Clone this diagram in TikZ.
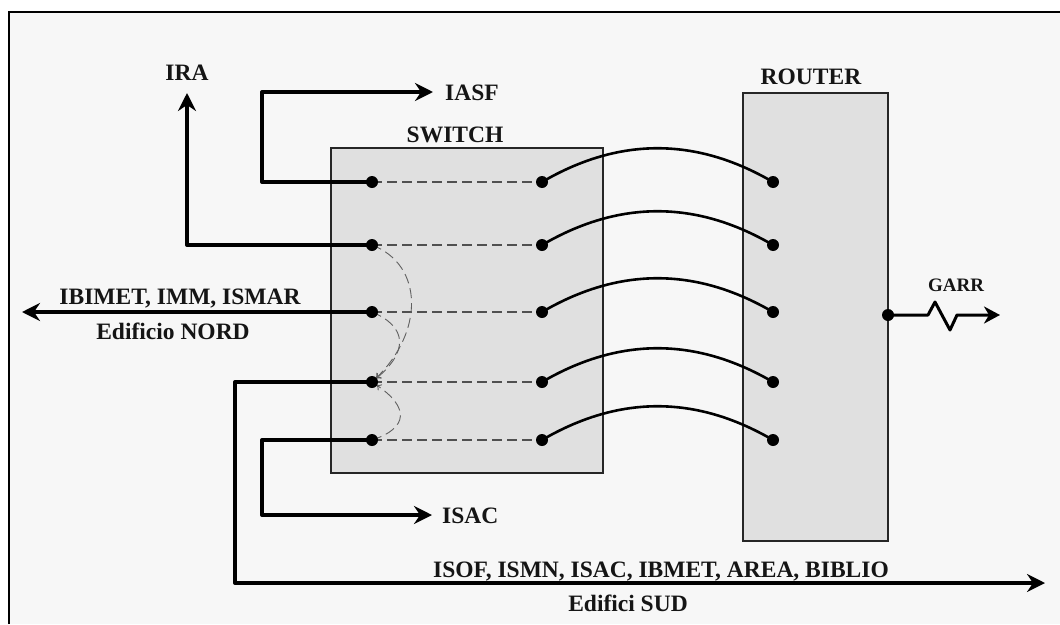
\documentclass[tikz,border=0pt]{standalone}
\usepackage{fontspec}
\setmainfont{Liberation Serif}
\usetikzlibrary{arrows.meta}
\definecolor{bgc}{HTML}{F7F7F7}
\definecolor{boxc}{HTML}{E0E0E0}
\definecolor{dashc}{HTML}{505050}
\definecolor{arcc}{HTML}{606060}
\definecolor{txtc}{HTML}{151515}
\begin{document}
\begin{tikzpicture}[x=1pt,y=-1pt,
  trunk/.style={line width=4pt, line join=round},
  arr/.style={-{Stealth[length=18pt,width=18pt,inset=6pt]}},
  cable/.style={line width=2.6pt},
  dline/.style={dashc, line width=1.1pt, dash pattern=on 10pt off 5pt},
  darc/.style={arcc, line width=0.9pt, dash pattern=on 10pt off 5pt, -{To[length=5pt,width=7pt]}, shorten >=5pt},
  swbox/.style={draw=black!85, line width=1.5pt, fill=boxc, inner sep=0pt},
  port/.style={circle, fill=black, inner sep=0pt, minimum size=12pt},
  lbl/.style={font=\fontsize{23.5}{28}\selectfont\bfseries, text=txtc, inner sep=0pt},
  lbls/.style={font=\fontsize{19}{23}\selectfont\bfseries, text=txtc, inner sep=0pt},
]
\useasboundingbox (0,0) rectangle (1060,624);
\fill[white] (0,0) rectangle (1060,624);
\fill[bgc] (9,12) rectangle (1060,624);
\draw[line width=2pt] (9,624) -- (9,12) -- (1060,12);

% boxes
\node[swbox, minimum width=272pt, minimum height=325pt] (sw) at (467,310.5) {};
\node[swbox, minimum width=145pt, minimum height=448pt] (rt) at (815.5,317) {};

% port coordinates
\foreach \i/\y in {1/182,2/245,3/312,4/382,5/440} {
  \coordinate (L\i) at (372,\y);
  \coordinate (R\i) at (542,\y);
  \coordinate (T\i) at (773,\y);
}

% internal dashed links
\foreach \i in {1,...,5} \draw[dline] (L\i) -- (R\i);

% dashed arcs to port 4
\draw[darc] (L2) .. controls +(52,20) and +(52,-50) .. (L4);
\draw[darc] (L3) .. controls +(36,15) and +(36,-30) .. (L4);
\draw[darc] (L5) .. controls +(37,-12) and +(37,25) .. (L4);

% switch to router cables
\foreach \i in {1,...,5} \draw[cable] (R\i) .. controls +(77,-45) and +(-77,-45) .. (T\i);

% outgoing trunks
\coordinate (a1) at (262,92);
\coordinate (iasfT) at (433,92);
\coordinate (iraT) at (187,93);
\coordinate (nordT) at (22,312);
\coordinate (b4) at (235,583);
\coordinate (sudT) at (1045,583);
\coordinate (b5) at (262,515);
\coordinate (isacT) at (432,515);

\draw[trunk,arr] (L1) -| (a1) -- (iasfT);
\draw[trunk,arr] (L2) -| (iraT);
\draw[trunk,arr] (L3) -- (nordT);
\draw[trunk,arr] (L4) -| (b4) -- (sudT);
\draw[trunk,arr] (L5) -| (b5) -- (isacT);

% GARR link
\coordinate (G) at (888,315);
\coordinate (z1) at (928,315);
\coordinate (z2) at (935,302);
\coordinate (z3) at (950,330);
\coordinate (z4) at (957,315);
\coordinate (garrT) at (1000,315);
\draw[line width=3pt, line join=round, -{Stealth[length=16pt,width=17pt,inset=5pt]}] (G) -- (z1) -- (z2) -- (z3) -- (z4) -- (garrT);

% dots
\foreach \i in {1,...,5} {
  \node[port] (pL\i) at (L\i) {};
  \node[port] (pR\i) at (R\i) {};
  \node[port] (pT\i) at (T\i) {};
}
\node[port] (pG) at (G) {};

% labels
\node[lbl, anchor=base] (ira) at (187,80) {IRA};
\node[lbl, anchor=base west] (iasf) at (445,100.5) {IASF};
\node[lbl, anchor=base] (swl) at (455,142) {SWITCH};
\node[lbl, anchor=base] (rtl) at (811,84) {ROUTER};
\node[lbls, anchor=base] (garr) at (956,291.5) {GARR};
\node[lbl, anchor=base] (nord1) at (180,304) {IBIMET, IMM, ISMAR};
\node[lbl, anchor=base] (nord2) at (173,339) {Edificio NORD};
\node[lbl, anchor=base west] (isac) at (442,523) {ISAC};
\node[lbl, anchor=base] (sud1) at (661,577) {ISOF, ISMN, ISAC, IBMET, AREA, BIBLIO};
\node[lbl, anchor=base] (sud2) at (628,611.5) {Edifici SUD};
\end{tikzpicture}
\end{document}
